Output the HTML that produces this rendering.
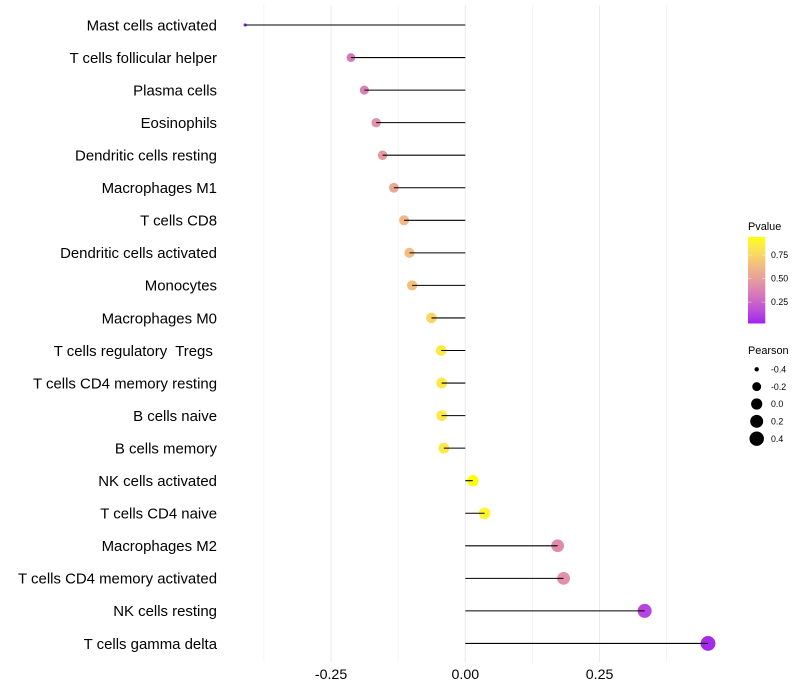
<!DOCTYPE html>
<html>
<head>
<meta charset="utf-8">
<title>Pearson lollipop chart</title>
<style>
html,body{margin:0;padding:0;background:#fff;width:800px;height:700px;overflow:hidden}
svg{display:block}
text{font-family:"Liberation Sans",sans-serif;white-space:pre}
</style>
</head>
<body>
<svg id="chart" width="800" height="700" viewBox="0 0 800 700" xmlns="http://www.w3.org/2000/svg">
<defs><linearGradient id="pgrad" x1="0" y1="1" x2="0" y2="0"></linearGradient></defs>
</svg>
<script>
const categories = ["Mast cells activated","T cells follicular helper","Plasma cells","Eosinophils","Dendritic cells resting","Macrophages M1","T cells CD8","Dendritic cells activated","Monocytes","Macrophages M0","T cells regulatory  Tregs ","T cells CD4 memory resting","B cells naive","B cells memory","NK cells activated","T cells CD4 naive","Macrophages M2","T cells CD4 memory activated","NK cells resting","T cells gamma delta"];
const pearson = [-0.41,-0.213,-0.188,-0.166,-0.154,-0.133,-0.114,-0.104,-0.099,-0.063,-0.045,-0.044,-0.044,-0.04,0.014,0.036,0.172,0.183,0.334,0.452];
const pvalue = [0.03,0.33,0.37,0.44,0.48,0.55,0.62,0.64,0.65,0.75,0.84,0.84,0.84,0.84,0.94,0.9,0.42,0.44,0.13,0.05];
const xTicks = [-0.25,0,0.25];
const xTickLabels = ["-0.25","0.00","0.25"];
const xMinorTicks = [-0.375,-0.125,0.125,0.375];
const pLegendTicks = [0.25,0.5,0.75];
const pLegendLabels = ["0.25","0.50","0.75"];
const sizeLegendValues = [-0.4,-0.2,0,0.2,0.4];
const sizeLegendLabels = ["-0.4","-0.2","0.0","0.2","0.4"];

const NS = "http://www.w3.org/2000/svg";
const svg = document.getElementById("chart");
const X0 = 465.3, XK = 537, Y0 = 25, YSTEP = 32.55;
const PANEL_TOP = 5, PANEL_BOTTOM = 662;
const xScale = v => X0 + v * XK;
const yScale = i => Y0 + i * YSTEP;
const PMIN = 0.027, PMAX = 0.94;
const legendPY = p => 278.6 - (p - 0.5) * 94;
const sizeMin = -0.41, sizeMax = 0.452;
const rScale = v => 1.6 + 5.8 * Math.sqrt(Math.max(0, (v - sizeMin) / (sizeMax - sizeMin)));

function rgb2lab(c){
  const f = c.map(v => { v /= 255; return v > 0.04045 ? Math.pow((v + 0.055) / 1.055, 2.4) : v / 12.92; });
  const x = (0.4124 * f[0] + 0.3576 * f[1] + 0.1805 * f[2]) / 0.95047;
  const y = 0.2126 * f[0] + 0.7152 * f[1] + 0.0722 * f[2];
  const z = (0.0193 * f[0] + 0.1192 * f[1] + 0.9505 * f[2]) / 1.08883;
  const g = t => t > 0.008856 ? Math.cbrt(t) : 7.787 * t + 16 / 116;
  return [116 * g(y) - 16, 500 * (g(x) - g(y)), 200 * (g(y) - g(z))];
}
function lab2rgb(l){
  const fy = (l[0] + 16) / 116, fx = fy + l[1] / 500, fz = fy - l[2] / 200;
  const h = t => t * t * t > 0.008856 ? t * t * t : (t - 16 / 116) / 7.787;
  const x = h(fx) * 0.95047, y = h(fy), z = h(fz) * 1.08883;
  const r = [3.2406 * x - 1.5372 * y - 0.4986 * z, -0.9689 * x + 1.8758 * y + 0.0415 * z, 0.0557 * x - 0.204 * y + 1.057 * z];
  return r.map(v => { v = v > 0.0031308 ? 1.055 * Math.pow(v, 1 / 2.4) - 0.055 : 12.92 * v; return Math.round(Math.min(1, Math.max(0, v)) * 255); });
}
const LOW = rgb2lab([160, 32, 240]), HIGH = rgb2lab([255, 255, 0]);
function pColor(p){
  const t = Math.min(1, Math.max(0, (p - PMIN) / (PMAX - PMIN)));
  const c = lab2rgb(LOW.map((v, i) => v + (HIGH[i] - v) * t));
  return "rgb(" + c.join(",") + ")";
}
function mk(tag, attrs, text){
  const el = document.createElementNS(NS, tag);
  for (const k in attrs) el.setAttribute(k, attrs[k]);
  if (text !== undefined) el.textContent = text;
  svg.appendChild(el);
  return el;
}

xMinorTicks.forEach(v => {
  const el = mk("line", {x1: xScale(v), x2: xScale(v), y1: PANEL_TOP, y2: PANEL_BOTTOM, stroke: "#f0f0f0", "stroke-width": 0.7});
  
  
});
xTicks.forEach((v, i) => {
  const el = mk("line", {x1: xScale(v), x2: xScale(v), y1: PANEL_TOP, y2: PANEL_BOTTOM, stroke: "#ebebeb", "stroke-width": 1});
  
  
  const t = mk("text", {x: xScale(v), y: 679, "text-anchor": "middle", "font-size": 14.2, fill: "#000"}, xTickLabels[i]);
  
  
});

categories.forEach((c, i) => {
  const t = mk("text", {x: 217, y: yScale(i) + 5.3, "text-anchor": "end", "font-size": 14.95, fill: "#000"}, c);
  
  
  const dot = mk("circle", {cx: xScale(pearson[i]), cy: yScale(i), r: rScale(pearson[i]), fill: pColor(pvalue[i])});
  
  
  const seg = mk("line", {x1: xScale(pearson[i]), x2: X0, y1: yScale(i), y2: yScale(i), stroke: "#000", "stroke-width": 1.07});
  
  
});

const grad = document.getElementById("pgrad");
for (let s = 0; s <= 20; s++) {
  const stop = document.createElementNS(NS, "stop");
  stop.setAttribute("offset", (s * 5) + "%");
  stop.setAttribute("stop-color", pColor(PMIN + (PMAX - PMIN) * s / 20));
  grad.appendChild(stop);
}
const pTitle = mk("text", {x: 748, y: 230, "font-size": 10.9, fill: "#000"}, "Pvalue");


const bar = mk("rect", {x: 748, y: 237, width: 17.3, height: 86.5, fill: "url(#pgrad)"});


pLegendTicks.forEach((p, i) => {
  const y = legendPY(p);
  [[748, 751.5], [761.8, 765.3]].forEach(r => {
    const tick = mk("line", {x1: r[0], x2: r[1], y1: y, y2: y, stroke: "#fff", "stroke-width": 0.5, "stroke-opacity": 0.8});
    
    
  });
  const t = mk("text", {x: 771, y: y + 3.1, "font-size": 8.8, fill: "#000"}, pLegendLabels[i]);
  
  
});

const sTitle = mk("text", {x: 748, y: 354, "font-size": 10.9, fill: "#000"}, "Pearson");


sizeLegendValues.forEach((v, i) => {
  const y = 369.3 + i * 17.35;
  const c = mk("circle", {cx: 756.7, cy: y, r: rScale(v), fill: "#000"});
  
  
  const t = mk("text", {x: 771, y: y + 3.1, "font-size": 8.8, fill: "#000"}, sizeLegendLabels[i]);
  
  
});
</script>
</body>
</html>
